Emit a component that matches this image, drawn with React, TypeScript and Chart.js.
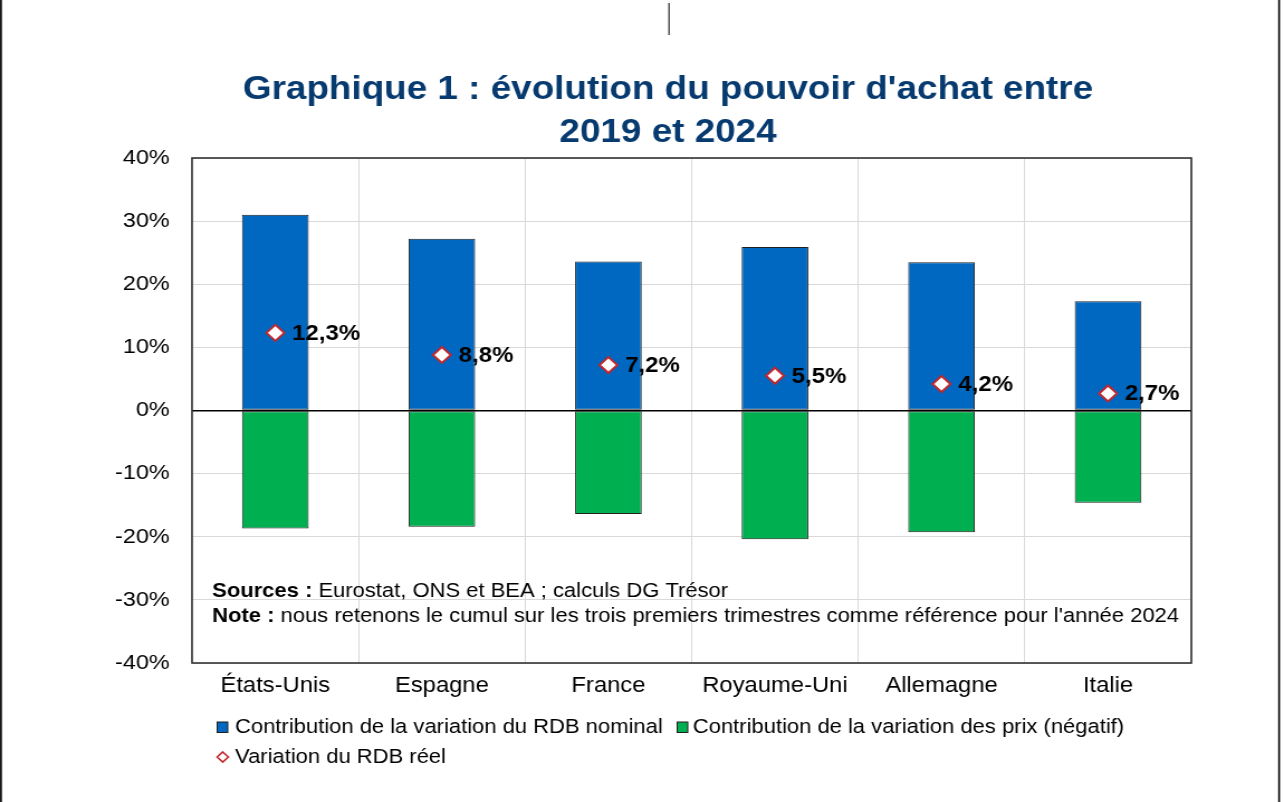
import { useEffect, useRef } from 'react';
import { Chart, registerables } from 'chart.js';

Chart.register(...registerables);

// Données
const pays = ['États-Unis', 'Espagne', 'France', 'Royaume-Uni', 'Allemagne', 'Italie'];
const rdbNominal = [31.0, 27.2, 23.6, 25.9, 23.5, 17.3];
const prixNegatif = [-18.7, -18.4, -16.4, -20.4, -19.3, -14.6];
const rdbReel = [12.3, 8.8, 7.2, 5.5, 4.2, 2.7];
const yTicks = [-40, -30, -20, -10, 0, 10, 20, 30, 40];

const titre = ["Graphique 1 : évolution du pouvoir d'achat entre", '2019 et 2024'];
const legendeNominal = 'Contribution de la variation du RDB nominal';
const legendePrix = 'Contribution de la variation des prix (négatif)';
const legendeReel = 'Variation du RDB réel';
const sourcesLabel = 'Sources :';
const sourcesTexte = ' Eurostat, ONS et BEA ; calculs DG Trésor';
const noteLabel = 'Note :';
const noteTexte = " nous retenons le cumul sur les trois premiers trimestres comme référence pour l'année 2024";

// Drawing surface (rendered narrower, then stretched horizontally to the page width)
const PAGE_W = 1284;
const W = 1150;
const H = 802;
const SX = PAGE_W / W;

const FONT = "'Liberation Sans', Arial, Helvetica, sans-serif";
const BLEU = '#0068c0';
const VERT = '#00b050';
const ROUGE = '#c0282e';
const TITRE_COULEUR = '#073b70';

const fmt = (v: number) => v.toFixed(1).replace('.', ',') + '%';

function diamond(ctx: CanvasRenderingContext2D, x: number, y: number, r: number) {
  ctx.beginPath();
  ctx.moveTo(x, y - r);
  ctx.lineTo(x + r, y);
  ctx.lineTo(x, y + r);
  ctx.lineTo(x - r, y);
  ctx.closePath();
}

const decor = {
  id: 'decor',
  beforeDraw(chart: any) {
    const ctx: CanvasRenderingContext2D = chart.ctx;
    ctx.save();
    ctx.fillStyle = '#ffffff';
    ctx.fillRect(0, 0, chart.width, chart.height);

    // page edges
    ctx.strokeStyle = '#000';
    ctx.lineWidth = 1.6;
    ctx.beginPath();
    ctx.moveTo(0.9, 0);
    ctx.lineTo(0.9, H);
    ctx.moveTo(1145.6, 0);
    ctx.lineTo(1145.6, H);
    ctx.stroke();
    ctx.strokeStyle = '#222';
    ctx.lineWidth = 1.2;
    ctx.beginPath();
    ctx.moveTo(599.2, 3);
    ctx.lineTo(599.2, 35);
    ctx.stroke();

    // title
    ctx.fillStyle = TITRE_COULEUR;
    ctx.font = `bold 33px ${FONT}`;
    ctx.textAlign = 'center';
    ctx.textBaseline = 'alphabetic';
    ctx.fillText(titre[0], 598.3, 99);
    ctx.fillText(titre[1], 598.3, 142);
    ctx.restore();
  },
  afterDatasetsDraw(chart: any) {
    const ctx: CanvasRenderingContext2D = chart.ctx;
    const meta = chart.getDatasetMeta(0);
    ctx.save();
    ctx.fillStyle = '#000';
    ctx.font = `bold 21.5px ${FONT}`;
    ctx.textAlign = 'left';
    ctx.textBaseline = 'middle';
    meta.data.forEach((pt: any, i: number) => {
      ctx.fillText(fmt(rdbReel[i]), pt.x + 15, pt.y + 1);
    });
    ctx.restore();
  },
  afterDraw(chart: any) {
    const ctx: CanvasRenderingContext2D = chart.ctx;
    const { left, top, right, bottom } = chart.chartArea;
    ctx.save();

    // plot frame
    ctx.strokeStyle = '#333';
    ctx.lineWidth = 1.6;
    ctx.strokeRect(left, top, right - left, bottom - top);

    // sources and note
    ctx.fillStyle = '#000';
    ctx.textAlign = 'left';
    ctx.textBaseline = 'alphabetic';
    const sx = left + 18;
    ctx.font = `bold 19.7px ${FONT}`;
    ctx.fillText(sourcesLabel, sx, 597);
    let w = ctx.measureText(sourcesLabel).width;
    ctx.font = `19.7px ${FONT}`;
    ctx.fillText(sourcesTexte, sx + w, 597);
    ctx.font = `bold 19.7px ${FONT}`;
    ctx.fillText(noteLabel, sx, 622);
    w = ctx.measureText(noteLabel).width;
    ctx.font = `19.7px ${FONT}`;
    ctx.fillText(noteTexte, sx + w, 622);

    // legend
    ctx.font = `19.7px ${FONT}`;
    ctx.textBaseline = 'middle';
    ctx.lineWidth = 1;
    ctx.strokeStyle = '#1f1f1f';
    ctx.fillStyle = BLEU;
    ctx.fillRect(194.5, 722, 9.5, 10.5);
    ctx.strokeRect(194.5, 722, 9.5, 10.5);
    ctx.fillStyle = '#000';
    ctx.fillText(legendeNominal, 210.5, 728);

    ctx.fillStyle = VERT;
    ctx.fillRect(606.5, 722, 9.5, 10.5);
    ctx.strokeRect(606.5, 722, 9.5, 10.5);
    ctx.fillStyle = '#000';
    ctx.fillText(legendePrix, 620.5, 728);

    ctx.fillStyle = '#fff';
    ctx.strokeStyle = ROUGE;
    ctx.lineWidth = 1.6;
    diamond(ctx, 199.5, 757, 5);
    ctx.fill();
    ctx.stroke();
    ctx.fillStyle = '#000';
    ctx.fillText(legendeReel, 210.5, 758);

    ctx.restore();
  },
};

export default function App() {
  const ref = useRef<HTMLCanvasElement>(null);

  useEffect(() => {
    const canvas = ref.current;
    if (!canvas) return;
    const chart = new Chart(canvas, {
      type: 'bar',
      data: {
        labels: pays,
        datasets: [
          {
            type: 'line',
            label: legendeReel,
            data: rdbReel,
            stack: 'reel',
            order: 0,
            showLine: false,
            pointStyle: 'rectRot',
            pointRadius: 8,
            pointHoverRadius: 8,
            pointBorderWidth: 2,
            pointBackgroundColor: '#ffffff',
            pointBorderColor: ROUGE,
          } as any,
          {
            type: 'bar',
            label: legendeNominal,
            data: rdbNominal,
            stack: 'rdb',
            order: 1,
            backgroundColor: BLEU,
            borderColor: '#1f1f1f',
            borderWidth: 1,
            borderSkipped: false,
            categoryPercentage: 1,
            barPercentage: 0.4,
          },
          {
            type: 'bar',
            label: legendePrix,
            data: prixNegatif,
            stack: 'rdb',
            order: 1,
            backgroundColor: VERT,
            borderColor: '#1f1f1f',
            borderWidth: 1,
            borderSkipped: false,
            categoryPercentage: 1,
            barPercentage: 0.4,
          },
        ],
      },
      options: {
        responsive: false,
        animation: false,
        devicePixelRatio: 1,
        layout: { padding: { top: 158, bottom: 99, left: 0, right: 83 } },
        plugins: {
          legend: { display: false },
          tooltip: { enabled: false },
          title: { display: false },
        },
        scales: {
          x: {
            stacked: true,
            border: { display: false },
            grid: {
              offset: true,
              color: '#d9d9d9',
              lineWidth: 1,
              drawTicks: false,
            },
            ticks: {
              color: '#000',
              font: { family: FONT, size: 21.3 },
              padding: 10,
              maxRotation: 0,
              autoSkip: false,
            },
            afterFit: (scale: any) => {
              scale.height = 40;
            },
          },
          y: {
            stacked: true,
            min: -40,
            max: 40,
            border: { display: false },
            grid: {
              color: (c: any) => (c.tick && c.tick.value === 0 ? '#000' : '#d9d9d9'),
              lineWidth: (c: any) => (c.tick && c.tick.value === 0 ? 1.4 : 1),
              drawTicks: false,
            },
            afterBuildTicks: (scale: any) => {
              scale.ticks = yTicks.map((v) => ({ value: v }));
            },
            ticks: {
              color: '#000',
              font: { family: FONT, size: 21 },
              padding: 20,
              callback: (v: any) => `${v}%`,
            },
            afterFit: (scale: any) => {
              scale.width = 172;
            },
          },
        },
      },
      plugins: [decor],
    });
    return () => chart.destroy();
  }, []);

  return (
    <div
      style={{
        position: 'fixed',
        left: 0,
        top: 0,
        width: PAGE_W,
        height: H,
        background: '#fff',
        overflow: 'hidden',
      }}
    >
      <div style={{ width: W, height: H, transform: `scaleX(${SX})`, transformOrigin: '0 0' }}>
        <canvas ref={ref} width={W} height={H} style={{ display: 'block', width: W, height: H }} />
      </div>
    </div>
  );
}
